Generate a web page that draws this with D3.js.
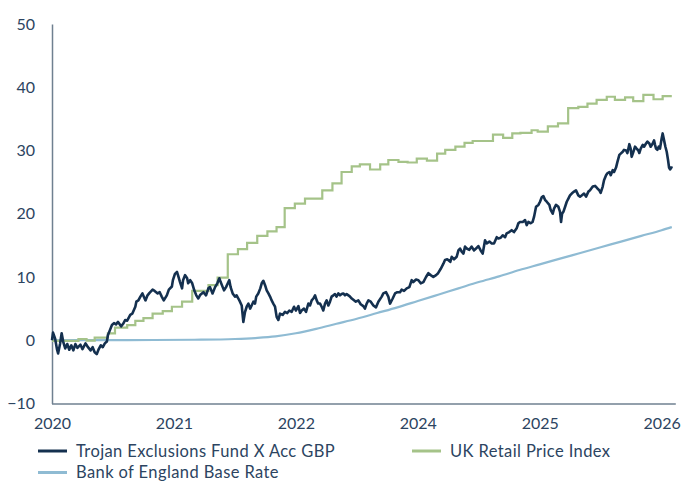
<!DOCTYPE html>
<html><head><meta charset="utf-8">
<script src="https://cdn.jsdelivr.net/npm/d3@7"></script>
<style>body{margin:0;background:#fff}svg{display:block}</style>
</head><body><svg id="c" width="683" height="483"></svg>
<script>
const xTickMonths = [0, 12, 24, 36, 48, 60];
const xTickLabels = ["2020", "2021", "2022", "2024", "2025", "2026"];
const yTicks = [-10, 0, 10, 20, 30, 40, 50];
const seriesNames = ["Trojan Exclusions Fund X Acc GBP", "UK Retail Price Index", "Bank of England Base Rate"];

const fundMonths = [0,0.1,0.3,0.5,0.6,0.8,0.95,1.1,1.3,1.5,1.7,1.9,2.1,2.3,2.5,2.8,3.0,3.3,3.5,3.8,4.0,4.2,4.4,4.6,4.8,5.0,5.2,5.4,5.5,5.7,5.9,6.1,6.3,6.5,6.8,7.0,7.2,7.4,7.7,7.9,8.2,8.3,8.5,8.7,8.9,9.2,9.4,9.6,9.9,10.1,10.4,10.6,10.8,11.0,11.3,11.5,11.8,11.9,12.1,12.3,12.4,12.6,12.8,12.9,13.1,13.3,13.4,13.6,13.8,14.0,14.2,14.4,14.6,14.9,15.16,15.39,15.55,15.8,16.05,16.27,16.47,16.6,16.8,16.93,17.13,17.36,17.45,17.58,17.78,18.0,18.17,18.34,18.5,18.67,18.83,19.0,19.16,19.33,19.5,19.65,19.82,19.98,20.1,20.3,20.5,20.64,20.8,20.97,21.13,21.3,21.46,21.62,21.78,21.95,22.11,22.28,22.44,22.7,22.93,23.16,23.36,23.59,23.82,24.0,24.25,24.41,24.57,24.8,25.0,25.23,25.39,25.56,25.72,25.89,26.05,26.2,26.38,26.54,26.7,26.87,27.03,27.2,27.36,27.52,27.69,27.85,28.0,28.18,28.35,28.51,28.67,28.84,29.0,29.17,29.33,29.5,29.66,29.9,30.15,30.38,30.64,30.8,30.97,31.14,31.37,31.63,31.89,32.12,32.45,32.61,32.87,33.1,33.27,33.53,33.76,33.99,34.25,34.41,34.65,34.91,35.17,35.4,35.56,35.83,36.06,36.29,36.55,36.81,37.04,37.27,37.53,37.8,38.0,38.26,38.52,38.68,38.9,39.2,39.34,39.57,39.83,40.0,40.16,40.32,40.49,40.65,40.82,41.07,41.3,41.54,41.73,41.96,42.19,42.39,42.62,42.78,43.05,43.28,43.5,43.77,43.93,44.16,44.36,44.59,44.75,45.0,45.24,45.47,45.73,45.9,46.06,46.33,46.56,46.72,46.88,47.11,47.3,47.44,47.64,47.87,48.03,48.2,48.36,48.52,48.69,48.95,49.08,49.28,49.41,49.6,49.84,50.0,50.1,50.2,50.33,50.5,50.66,50.82,50.98,51.15,51.38,51.57,51.8,51.97,52.13,52.36,52.56,52.79,52.95,53.22,53.45,53.68,53.87,54.0,54.2,54.33,54.53,54.66,54.86,54.99,55.19,55.32,55.51,55.65,55.84,55.97,56.17,56.3,56.5,56.63,56.73,56.82,56.95,57.05,57.22,57.38,57.54,57.71,57.8,57.94,58.14,58.27,58.46,58.6,58.79,58.92,59.12,59.25,59.35,59.45,59.58,59.71,59.84,60.0,60.1,60.24,60.37,60.5,60.63,60.73,60.83,60.96,61.0];
const fundValues = [0,1.2,0.3,-1.5,-2.1,-0.5,1.1,-0.2,-1.3,-0.6,-1.5,-0.8,-1.6,-0.6,-1.2,-0.7,-1.4,-0.5,-1.0,-1.6,-1.1,-1.9,-2.2,-1.4,-0.8,-1.1,-0.5,-0.2,0.8,1.6,2.4,2.7,2.5,2.9,2.2,2.6,3.2,3.1,4.0,4.2,5.3,6.1,6.3,6.9,7.4,6.3,7.1,7.5,8.0,7.8,7.4,7.6,6.9,6.3,7.1,8.0,8.5,9.5,10.5,10.8,10.3,9.2,8.2,9.5,10.3,9.8,9.0,9.5,9.0,7.9,7.1,6.6,7.2,7.6,7.1,8.2,8.4,7.4,8.4,9.0,9.8,9.2,8.4,7.9,8.4,9.2,9.5,8.4,7.4,6.9,7.1,6.6,6.1,5.5,2.9,4.5,5.3,5.8,5.0,5.5,6.1,5.8,6.9,7.4,8.2,9.0,9.4,8.7,7.9,7.4,6.9,6.3,5.8,5.3,3.7,3.2,4.2,4.0,4.5,4.3,4.7,4.5,5.3,4.7,5.4,4.3,4.7,5.0,4.5,5.8,5.5,6.3,6.6,7.1,6.3,5.8,5.8,5.3,4.7,5.8,6.3,5.5,6.1,6.9,7.1,7.3,6.9,7.4,7.1,7.3,7.4,7.1,7.3,7.1,6.9,6.6,6.4,6.1,6.3,5.7,5.4,5.0,5.8,6.3,6.1,5.5,5.2,6.1,6.9,7.4,7.6,6.9,5.8,6.6,7.4,7.6,7.6,8.0,7.8,8.2,8.4,9.5,9.2,9.6,9.5,9.0,9.2,10.0,10.6,10.3,10.0,10.3,10.6,11.3,12.1,12.7,12.8,12.4,13.2,12.8,13.2,14.2,14.5,14.0,13.7,14.8,14.5,14.3,14.8,14.2,14.5,14.9,14.2,13.7,15.8,15.3,15.6,15.3,15.3,16.3,16.1,16.2,16.6,16.3,16.9,17.1,17.4,17.1,17.7,18.5,18.7,18.7,19.0,18.2,18.7,18.5,18.7,19.5,21.1,21.4,21.9,22.6,22.8,22.2,21.9,21.4,20.6,20.0,20.8,21.4,21.1,20.3,18.7,20.0,20.3,21.1,21.9,22.4,22.9,23.2,23.5,23.7,22.9,22.7,22.9,23.2,22.7,23.5,23.7,24.3,24.4,24.0,23.7,23.3,24.3,25.3,26.1,26.4,26.6,26.1,26.9,26.6,27.3,28.2,29.3,29.5,29.8,30.1,30.0,29.6,30.3,31.0,30.3,29.0,29.8,30.6,30.3,30.0,29.6,30.3,30.9,30.6,31.1,31.4,31.1,30.6,31.1,31.6,30.9,30.3,30.1,30.6,30.3,31.9,32.7,31.6,30.6,29.8,28.5,27.3,27.0,27.3,27.5];

const rpiMonths = [0,2.6,3.4,4.2,5.5,6.2,7.4,8.2,9.0,9.9,10.9,11.8,12.8,13.8,15.4,16.3,17.3,18.3,19.2,20.2,21.2,22.1,22.9,23.9,24.9,26.6,27.6,28.5,29.5,30.3,31.3,32.3,33.1,34.1,35.0,35.9,36.9,37.9,38.7,39.7,40.6,41.4,43.4,44.4,45.3,46.1,47.2,47.8,48.8,49.8,50.8,51.8,52.7,53.6,54.6,55.4,56.4,57.2,58.2,59.2,60.1,61.0];
const rpiValues = [-0.1,0.2,-0.05,0.4,1.1,2.0,2.4,3.05,3.5,4.2,4.6,5.3,6.1,7.8,8.7,9.9,13.6,14.4,15.4,16.5,17.2,17.9,20.9,21.6,22.4,23.7,24.8,26.6,27.5,27.8,27.0,27.8,28.5,28.2,28.1,28.7,28.4,29.5,30.1,30.6,31.2,31.5,32.5,32.0,32.7,32.8,33.2,33.0,33.8,34.3,36.7,36.9,37.4,38.0,38.5,38.0,38.4,37.8,38.8,38.1,38.6,38.6];

const boeMonths = [0,5,10,14,18,20,22,24,26,28,30,32,34,36,38,40,42,44,46,48,50,52,54,56,58,60,61];
const boeValues = [0,0.02,0.04,0.08,0.2,0.35,0.6,1.1,1.8,2.6,3.4,4.3,5.2,6.2,7.2,8.2,9.2,10.1,11.1,12.0,12.9,13.8,14.7,15.6,16.5,17.4,17.9];

const colors = ["#14304f", "#a5c389", "#8fbbd3"];
const textColor = "#2c4461";
const axisColor = "#6f8090";
const font = "Lato, 'Open Sans', sans-serif";

const svg = d3.select("#c");
const x = d3.scaleLinear().domain([0, 61]).range([52, 671.8]);
const y = d3.scaleLinear().domain([-10, 50]).range([403.5, 24]);

// y axis
const yAxis = svg.append("g").attr("transform", "translate(52,0)")
  .call(d3.axisLeft(y).tickValues(yTicks).tickSize(0).tickPadding(17).tickFormat(d3.format("d")));
yAxis.select(".domain").attr("stroke", axisColor).attr("stroke-width", 1.5);
yAxis.selectAll("text").attr("fill", textColor).style("font-family", font).style("font-size", "16px");

// x axis
const xAxis = svg.append("g").attr("transform", "translate(0,404)")
  .call(d3.axisBottom(x).tickValues(xTickMonths).tickSize(0).tickPadding(14)
    .tickFormat((d, i) => xTickLabels[i]));
xAxis.select(".domain").attr("stroke", axisColor).attr("stroke-width", 1.5)
  .attr("d", `M52,0H${x(61) + 4}`);
xAxis.selectAll("text").attr("fill", textColor).style("font-family", font).style("font-size", "16px");

const toPts = (ms, vs) => ms.map((m, i) => [m, vs[i]]);

const boeLine = d3.line().x(d => x(d[0])).y(d => y(d[1])).curve(d3.curveMonotoneX);
svg.append("path").attr("d", boeLine(toPts(boeMonths, boeValues)))
  .attr("fill", "none").attr("stroke", colors[2]).attr("stroke-width", 2.2);

const rpiLine = d3.line().x(d => x(d[0])).y(d => y(d[1])).curve(d3.curveStepAfter);
svg.append("path").attr("d", rpiLine(toPts(rpiMonths, rpiValues)))
  .attr("fill", "none").attr("stroke", colors[1]).attr("stroke-width", 2.2);

const fundLine = d3.line().x(d => x(d[0])).y(d => y(d[1]));
svg.append("path").attr("d", fundLine(toPts(fundMonths, fundValues)))
  .attr("fill", "none").attr("stroke", colors[0]).attr("stroke-width", 2.6)
  .attr("stroke-linejoin", "round");

// legend
const legendPos = [[38, 451], [412, 451], [38, 472.5]];
seriesNames.forEach((name, i) => {
  const [lx, ly] = legendPos[i];
  const g = svg.append("g").attr("transform", `translate(${lx},${ly})`);
  g.append("line").attr("x1", 0).attr("x2", 29).attr("y1", 0).attr("y2", 0)
    .attr("stroke", colors[i]).attr("stroke-width", 3);
  g.append("text").attr("x", 38).attr("y", 0).attr("dy", "0.35em")
    .attr("fill", textColor).style("font-family", font).style("font-size", "16.5px")
    .style("letter-spacing", "0.4px")
    .text(name);
});
</script></body></html>
